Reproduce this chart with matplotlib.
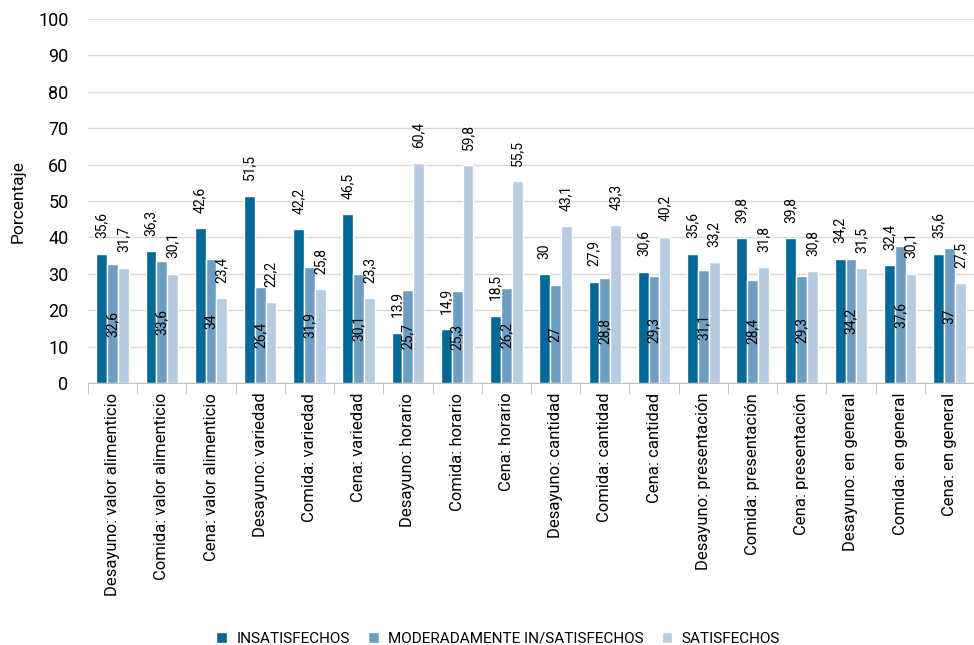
import numpy as np
import matplotlib
matplotlib.use('Agg')
import matplotlib.pyplot as plt

plt.rcParams['font.family'] = ['Roboto', 'DejaVu Sans']

categories = ['Desayuno: valor alimenticio', 'Comida: valor alimenticio', 'Cena: valor alimenticio',
              'Desayuno: variedad', 'Comida: variedad', 'Cena: variedad',
              'Desayuno: horario', 'Comida: horario', 'Cena: horario',
              'Desayuno: cantidad', 'Comida: cantidad', 'Cena: cantidad',
              'Desayuno: presentación', 'Comida: presentación', 'Cena: presentación',
              'Desayuno: en general', 'Comida: en general', 'Cena: en general']
insatisfechos = [35.6, 36.3, 42.6, 51.5, 42.2, 46.5, 13.9, 14.9, 18.5, 30, 27.9, 30.6, 35.6, 39.8, 39.8, 34.2, 32.4, 35.6]
moderados = [32.6, 33.6, 34, 26.4, 31.9, 30.1, 25.7, 25.3, 26.2, 27, 28.8, 29.3, 31.1, 28.4, 29.3, 34.2, 37.6, 37]
satisfechos = [31.7, 30.1, 23.4, 22.2, 25.8, 23.3, 60.4, 59.8, 55.5, 43.1, 43.3, 40.2, 33.2, 31.8, 30.8, 31.5, 30.1, 27.5]
series_names = ['INSATISFECHOS', 'MODERADAMENTE IN/SATISFECHOS', 'SATISFECHOS']
colors = ['#006896', '#6E9DC2', '#B7CBE1']

def fmt(v):
    return ('%g' % v).replace('.', ',')

fig = plt.figure(figsize=(9.74, 6.45), dpi=100)
ax = fig.add_axes([0.0903, 0.406, 0.9097, 0.5645])

x = np.arange(len(categories))
w = 0.22
for i, (vals, name, c) in enumerate(zip([insatisfechos, moderados, satisfechos], series_names, colors)):
    pos = x + (i - 1) * w
    ax.bar(pos, vals, width=w, color=c, edgecolor='white', linewidth=1.0, label=name, zorder=3)
    for p, v in zip(pos, vals):
        if i == 1:
            ax.text(p, v / 2, fmt(v), rotation=90, ha='center', va='center', fontsize=10, zorder=4)
        else:
            ax.annotate(fmt(v), (p, v), xytext=(0, 11), textcoords='offset points',
                        rotation=90, ha='center', va='bottom', fontsize=10)

ax.set_xlim(-0.5, len(categories) - 0.5)
ax.set_ylim(0, 100)
ax.set_yticks(np.arange(0, 101, 10))
ax.yaxis.grid(True, color='#D9D9D9', linewidth=1, zorder=0)
ax.set_axisbelow(True)
for s in ['left', 'right', 'top']:
    ax.spines[s].set_visible(False)
ax.spines['bottom'].set_color('#BFBFBF')
ax.tick_params(axis='y', length=0, labelsize=13, pad=14)
ax.set_xticks(x)
ax.set_xticklabels(categories, rotation=90, fontsize=12)
ax.tick_params(axis='x', which='major', length=0, pad=7)
ax.set_xticks(np.arange(-0.5, len(categories), 1), minor=True)
ax.tick_params(axis='x', which='minor', length=8, color='#BFBFBF')
ax.set_ylabel('Porcentaje', fontsize=12.5, labelpad=9)

ax.legend(loc='center', bbox_to_anchor=(0.463, -0.702), ncol=3, frameon=False,
          fontsize=11, handlelength=0.7, handleheight=0.7, handletextpad=0.6, columnspacing=1.2)

fig.savefig('out.png', dpi=100)
